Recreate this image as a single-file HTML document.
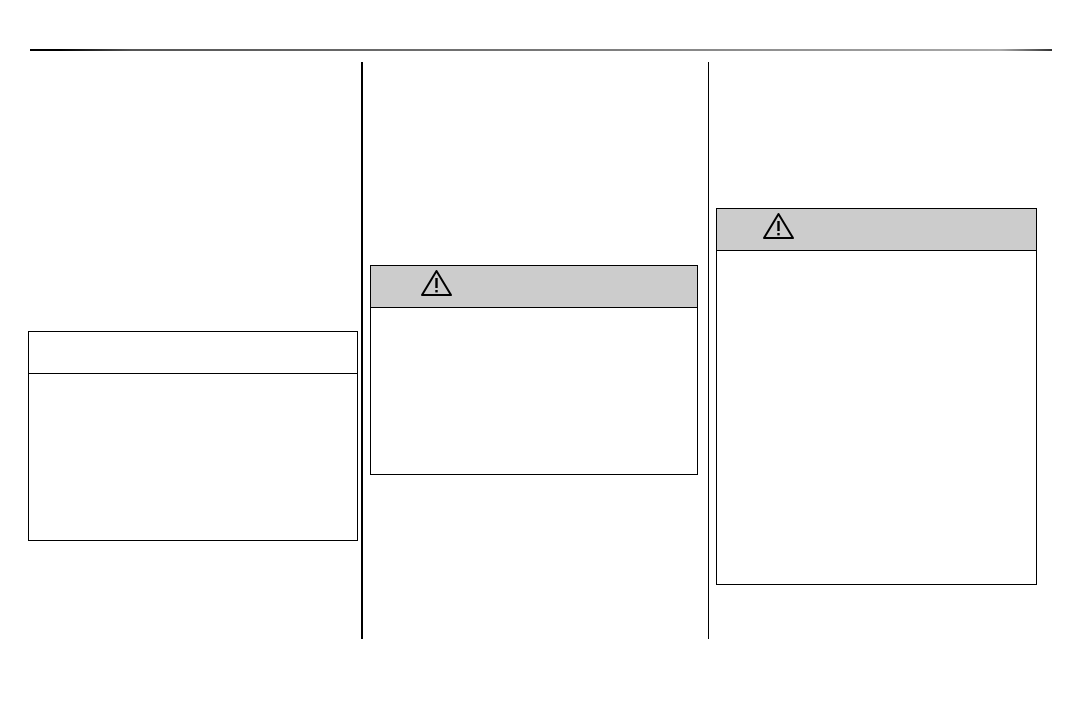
<!DOCTYPE html>
<html><head><style>
body{margin:0;width:1072px;height:714px;background:#fff;position:relative;overflow:hidden;font-family:"Liberation Sans",sans-serif}
div{position:absolute;box-sizing:border-box}
.box{border:1px solid #000;background:#fff}
.hd{left:0;top:0;right:0;background:#cccccc;border-bottom:1.5px solid #000}
</style></head><body>
<div style="left:30px;top:49px;width:1022px;height:2px;background:linear-gradient(90deg,#000 0,#000 3%,#555 10%,#777 50%,#aaa 95%,#333 100%)"></div>
<div style="left:361px;top:62px;width:2px;height:577px;background:#000"></div>
<div style="left:708px;top:62px;width:1px;height:577px;background:#000"></div>

<div class="box" style="left:28px;top:331px;width:330px;height:210px">
 <div style="left:0;right:0;top:41px;height:1px;background:#000"></div>
</div>

<div class="box" style="left:370px;top:265px;width:328px;height:210px">
 <div class="hd" style="height:42px"></div>
 <svg style="position:absolute;left:49px;top:3px" width="33" height="28" viewBox="0 0 33 28"><path d="M16.5 2 L31 26 L2 26 Z" fill="none" stroke="#000" stroke-width="2" stroke-linejoin="round"/><rect x="15.3" y="9" width="2.4" height="10" fill="#000"/><rect x="15.3" y="21" width="2.4" height="2.4" fill="#000"/></svg>
</div>

<div class="box" style="left:716px;top:208px;width:321px;height:377px">
 <div class="hd" style="height:42px"></div>
 <svg style="position:absolute;left:45px;top:3px" width="33" height="28" viewBox="0 0 33 28"><path d="M16.5 2 L31 26 L2 26 Z" fill="none" stroke="#000" stroke-width="2" stroke-linejoin="round"/><rect x="15.3" y="9" width="2.4" height="10" fill="#000"/><rect x="15.3" y="21" width="2.4" height="2.4" fill="#000"/></svg>
</div>
</body></html>
